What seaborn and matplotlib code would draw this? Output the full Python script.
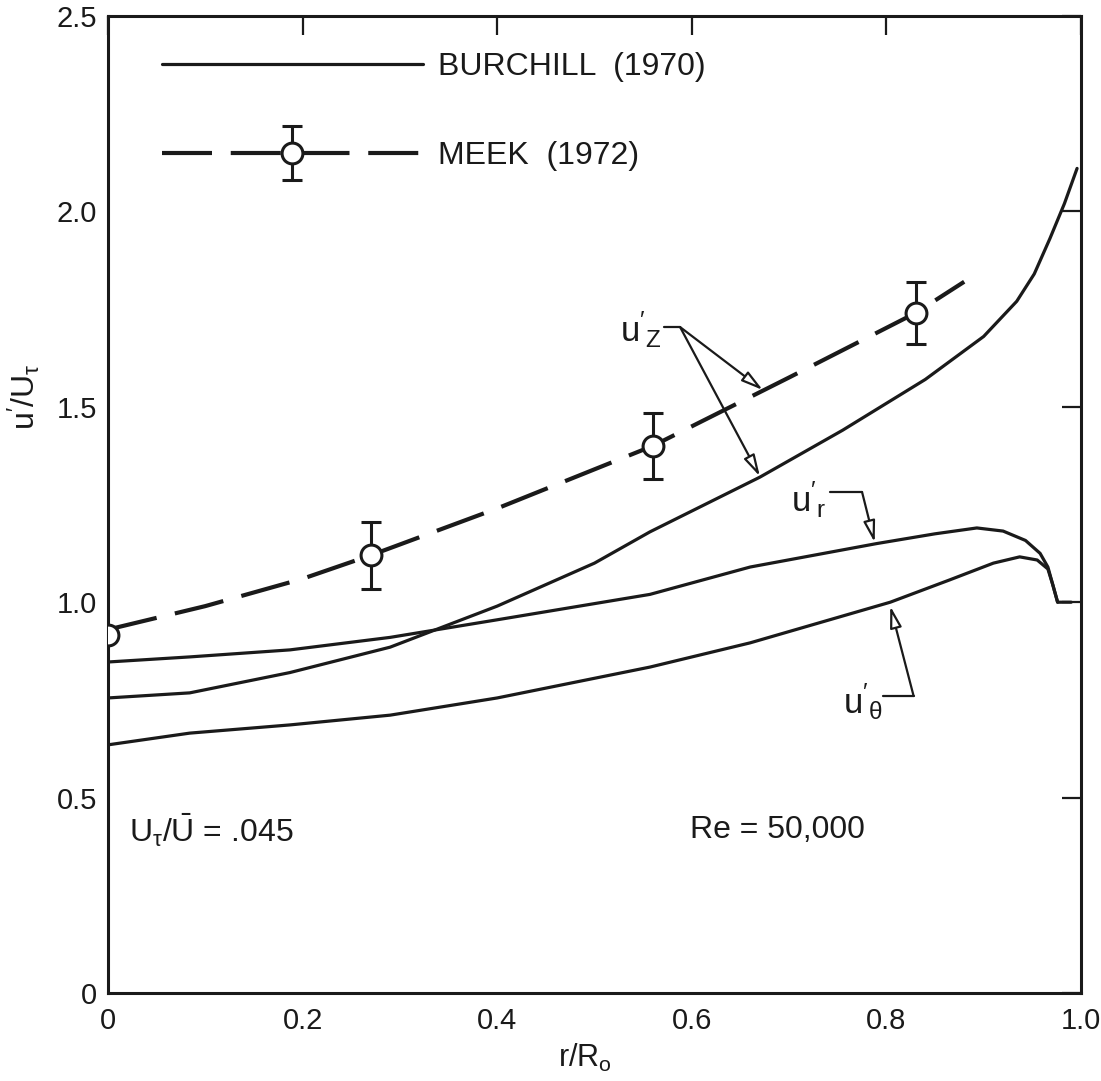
import numpy as np
import pandas as pd
import matplotlib
matplotlib.use("Agg")
import matplotlib.pyplot as plt
import seaborn as sns
from matplotlib.container import ErrorbarContainer
from matplotlib.legend_handler import HandlerErrorbar, HandlerTuple

# ---------------- data ----------------
# Burchill (1970) – solid curves
uz_x = [0.0, 0.084, 0.187, 0.29, 0.4, 0.5, 0.557, 0.67, 0.755, 0.84, 0.9, 0.934, 0.952, 0.968, 0.983, 0.996]
uz_y = [0.755, 0.768, 0.82, 0.885, 0.99, 1.10, 1.18, 1.32, 1.44, 1.57, 1.68, 1.77, 1.84, 1.93, 2.02, 2.11]

ur_x = [0.0, 0.084, 0.187, 0.29, 0.4, 0.557, 0.66, 0.79, 0.85, 0.893, 0.92, 0.943, 0.958, 0.966, 0.971, 0.976, 0.99]
ur_y = [0.847, 0.86, 0.878, 0.91, 0.955, 1.02, 1.09, 1.15, 1.175, 1.19, 1.182, 1.158, 1.125, 1.09, 1.045, 1.0, 1.0]

ut_x = [0.0, 0.084, 0.187, 0.29, 0.4, 0.557, 0.66, 0.804, 0.865, 0.91, 0.937, 0.955, 0.966, 0.971, 0.976]
ut_y = [0.635, 0.665, 0.686, 0.711, 0.755, 0.834, 0.896, 1.0, 1.057, 1.10, 1.116, 1.108, 1.085, 1.045, 1.0]

# Meek (1972) – dashed line and measured points with error bars
meek_line_x = [0.0, 0.1, 0.2, 0.27, 0.4, 0.56, 0.7, 0.83, 0.88]
meek_line_y = [0.93, 0.99, 1.06, 1.12, 1.24, 1.40, 1.575, 1.74, 1.82]
meek_pts_x = [0.0, 0.27, 0.56, 0.83]
meek_pts_y = [0.915, 1.12, 1.40, 1.74]
meek_err = [0.0, 0.085, 0.085, 0.08]

x_ticks = [0, 0.2, 0.4, 0.6, 0.8, 1.0]
x_ticklabels = ["0", "0.2", "0.4", "0.6", "0.8", "1.0"]
y_ticks = [0, 0.5, 1.0, 1.5, 2.0, 2.5]
y_ticklabels = ["0", "0.5", "1.0", "1.5", "2.0", "2.5"]

# ---------------- style ----------------
sns.set_style("white")
plt.rcParams["font.family"] = ["Liberation Sans", "DejaVu Sans"]
plt.rcParams["mathtext.fontset"] = "custom"
plt.rcParams["mathtext.rm"] = "Liberation Sans"
plt.rcParams["mathtext.it"] = "Liberation Sans:italic"
INK = "#1a1a1a"

fig = plt.figure(figsize=(11.01, 10.81), dpi=100)
ax = fig.add_axes([0.0981, 0.0814, 0.8837, 0.9038])

lw_solid = 2.3
sns.lineplot(x=uz_x, y=uz_y, ax=ax, color=INK, lw=lw_solid, estimator=None, sort=False)
sns.lineplot(x=ur_x, y=ur_y, ax=ax, color=INK, lw=lw_solid, estimator=None, sort=False)
sns.lineplot(x=ut_x, y=ut_y, ax=ax, color=INK, lw=lw_solid, estimator=None, sort=False)
burchill_handle = ax.lines[0]

meek_line, = ax.plot(meek_line_x, meek_line_y, color=INK, lw=3.0, dashes=(12, 4.5))
meek_eb = ax.errorbar(meek_pts_x, meek_pts_y, yerr=meek_err, fmt="o", ms=15,
                      mfc="white", mec=INK, mew=2.2, ecolor=INK, elinewidth=2.2,
                      capsize=7, capthick=2.2, zorder=5)

ax.set_xlim(0, 1.0)
ax.set_ylim(0, 2.5)
ax.set_xticks(x_ticks)
ax.set_xticklabels(x_ticklabels)
ax.set_yticks(y_ticks)
ax.set_yticklabels(y_ticklabels)
ax.tick_params(axis="both", direction="in", length=14, width=1.6, color=INK,
               labelsize=21, labelcolor=INK, top=True, right=True)
ax.tick_params(axis="x", pad=10)
ax.tick_params(axis="y", pad=8)
for s in ax.spines.values():
    s.set_color(INK)
    s.set_linewidth(2.2)

ax.set_xlabel(r"$\mathregular{r/R_o}$", fontsize=22, color=INK)
ax.xaxis.set_label_coords(0.49, -0.05)
ax.set_ylabel(r"$\mathregular{u'/U_\tau}$", fontsize=23, color=INK)
ax.yaxis.set_label_coords(-0.068, 0.61)

# legend
leg = ax.legend([burchill_handle, (meek_line, meek_eb)],
                ["BURCHILL  (1970)", "MEEK  (1972)"],
                handler_map={ErrorbarContainer: HandlerErrorbar(yerr_size=0.85),
                             tuple: HandlerTuple(ndivide=1)},
                loc="upper left", bbox_to_anchor=(0.055, 0.963), frameon=False,
                fontsize=23, handlelength=8.2, handletextpad=0.45,
                labelspacing=1.85, borderpad=0, borderaxespad=0)
for t in leg.get_texts():
    t.set_color(INK)

# annotations
arrow_kw = dict(arrowstyle="-|>,head_length=1.3,head_width=0.35", fc="white",
                ec=INK, lw=1.6, shrinkA=0, shrinkB=0)
# u'_z
ax.text(0.548, 1.697, r"$\mathregular{u'_Z}$", fontsize=25, ha="center", va="center", color=INK)
ax.plot([0.571, 0.588], [1.704, 1.704], color=INK, lw=1.6)
ax.annotate("", xy=(0.673, 1.543), xytext=(0.588, 1.704), arrowprops=arrow_kw)
ax.annotate("", xy=(0.670, 1.322), xytext=(0.588, 1.704), arrowprops=arrow_kw)
# u'_r
ax.text(0.72, 1.262, r"$\mathregular{u'_r}$", fontsize=25, ha="center", va="center", color=INK)
ax.plot([0.742, 0.775], [1.282, 1.282], color=INK, lw=1.6)
ax.annotate("", xy=(0.788, 1.153), xytext=(0.775, 1.282), arrowprops=arrow_kw)
# u'_theta
ax.text(0.776, 0.745, r"$\mathregular{u'_\theta}$", fontsize=25, ha="center", va="center", color=INK)
ax.plot([0.797, 0.828], [0.76, 0.76], color=INK, lw=1.6)
ax.annotate("", xy=(0.804, 0.99), xytext=(0.828, 0.76), arrowprops=arrow_kw)

ax.text(0.022, 0.417, r"$\mathregular{U_\tau/\bar{U}}$ = .045", fontsize=23,
        ha="left", va="center", color=INK)
ax.text(0.598, 0.417, "Re = 50,000", fontsize=23, ha="left", va="center", color=INK)

fig.savefig("out.png", dpi=100, facecolor="white")
